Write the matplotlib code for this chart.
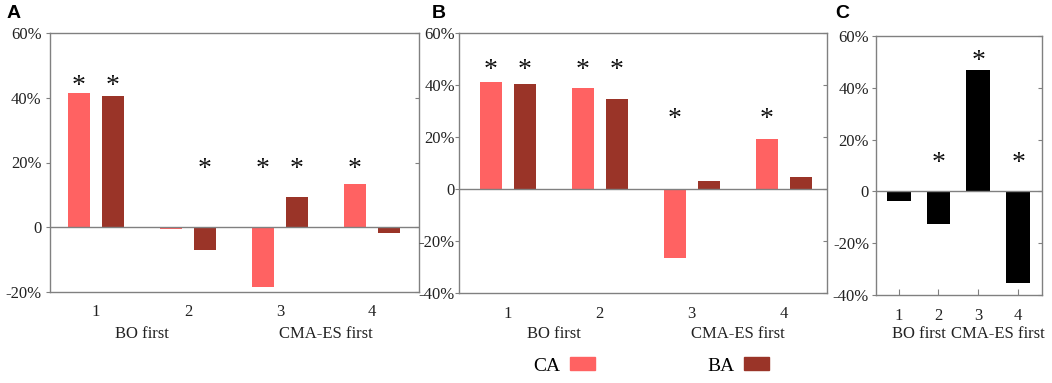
import matplotlib.pyplot as plt
import matplotlib.transforms as mtransforms
from matplotlib.patches import Patch
import numpy as np

plt.rcParams['font.family'] = ['Liberation Serif', 'DejaVu Serif']

# x positions (scenario 1..4) and the two group names under them
groups = [1, 2, 3, 4]
group_names = ['BO first', 'CMA-ES first']
group_pos = [1.5, 3.5]

# panel A: relative change (%)
a_ca = [41.5, -0.6, -18.4, 13.4]
a_ba = [40.4, -6.9, 9.3, -1.7]
a_ca_star = [43.4, None, 17.9, 17.9]
a_ba_star = [43.4, 17.9, 17.9, None]

# panel B
b_ca = [41.3, 38.7, -26.7, 19.1]
b_ba = [40.3, 34.7, 3.1, 4.7]
b_ca_star = [45.4, 45.4, 26.6, 26.6]
b_ba_star = [45.4, 45.4, None, None]

# panel C
c_vals = [-3.8, -12.7, 46.9, -35.3]
c_star = [None, 10.8, 50.0, 10.8]

CA_COLOR = '#ff6262'
BA_COLOR = '#9a3428'
GREY = '#808080'
W, H = 1052, 383


def pct(v):
    # '0' stays bare, the others get a percent sign and a plain hyphen
    return '0' if v == 0 else '%d%%' % v


def make_axes(fig, left, right, top, bottom):
    ax = fig.add_axes([left / W, 1 - bottom / H, (right - left) / W, (bottom - top) / H])
    for s in ax.spines.values():
        s.set_color(GREY)
        s.set_linewidth(1.0)
    ax.axhline(0, color=GREY, lw=1.0, zorder=3)
    return ax


def stars(ax, xs, ys):
    for x, y in zip(xs, ys):
        if y is None:
            continue
        ax.text(x, y, '*', ha='center', va='center', fontsize=20, color='#111111')


def finish(ax, ylim, ypad, xticklen):
    ax.set_ylim(*ylim)
    ticks = np.arange(ylim[0], ylim[1] + 1, 20)
    ax.set_yticks(ticks)
    ax.set_yticklabels([pct(t) for t in ticks])
    ax.set_xticks(groups)
    ax.set_xticklabels([str(g) for g in groups])
    # small outward ticks on the left, inward ones on the right spine
    ax.tick_params(axis='y', left=True, direction='out', length=3, color=GREY,
                   labelsize=12, labelcolor='#222222', pad=ypad)
    ax2 = ax.secondary_yaxis('right')
    ax2.set_yticks(ticks)
    ax2.tick_params(direction='in', length=3, color=GREY, labelright=False)
    ax2.spines['right'].set_visible(False)
    ax.tick_params(axis='x', direction='in', length=xticklen, color=GREY,
                   labelsize=12, labelcolor='#222222', pad=9)
    # group labels under the tick numbers
    tr = mtransforms.blended_transform_factory(ax.transData, fig.transFigure)
    for name, p in zip(group_names, group_pos):
        ax.text(p, 1 - 334 / H, name, transform=tr, ha='center', va='center',
                fontsize=12, color='#222222')


fig = plt.figure(figsize=(W / 100, H / 100), dpi=100)

off, bw = 0.185, 0.24
x = np.array(groups, dtype=float)

# A
ax = make_axes(fig, 50, 419, 33, 292)
ax.bar(x - off, a_ca, bw, color=CA_COLOR, zorder=2)
ax.bar(x + off, a_ba, bw, color=BA_COLOR, zorder=2)
stars(ax, x - off, a_ca_star)
stars(ax, x + off, a_ba_star)
ax.set_xlim(0.5, 4.51)
finish(ax, (-20, 60), 3, 0)

# B
ax = make_axes(fig, 459, 827, 33, 293)
ax.bar(x - off, b_ca, bw, color=CA_COLOR, zorder=2)
ax.bar(x + off, b_ba, bw, color=BA_COLOR, zorder=2)
stars(ax, x - off, b_ca_star)
stars(ax, x + off, b_ba_star)
ax.set_xlim(0.47, 4.47)
finish(ax, (-40, 60), 0, 0)

# C
ax = make_axes(fig, 876, 1042, 36, 295)
ax.bar(x, c_vals, 0.6, color='black', zorder=2)
stars(ax, x, c_star)
ax.set_xlim(0.43, 4.6)
finish(ax, (-40, 60), 2, 4)

# panel letters
for letter, px in zip(['A', 'B', 'C'], [7, 432, 835]):
    fig.text(px / W, 1 - 13 / H, letter, ha='left', va='center', fontsize=14,
             fontweight='bold', family=['Liberation Sans', 'DejaVu Sans'])

handles = [Patch(color=CA_COLOR), Patch(color=BA_COLOR)]
fig.legend(handles, ['CA', 'BA'], loc='center', bbox_to_anchor=(651 / W, 1 - 366 / H),
           ncol=2, frameon=False, markerfirst=False, fontsize=14,
           handlelength=1.25, handleheight=0.6, handletextpad=0.5, columnspacing=5.8)

fig.savefig('out.png', dpi=100)
